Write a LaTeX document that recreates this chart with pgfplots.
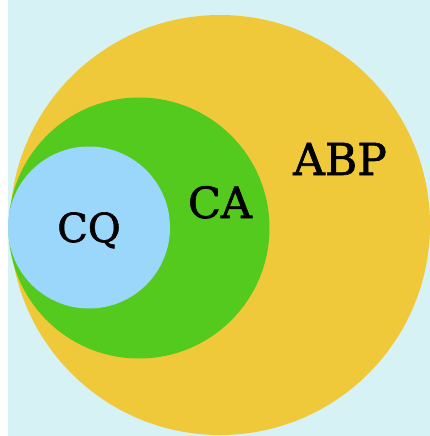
\documentclass[border=0pt]{standalone}
\usepackage{pgfplots}
\pgfplotsset{compat=1.18}
\usepackage{fontspec}
\setmainfont{DejaVu Serif}
\newfontfamily\lbl{DejaVu Serif}[FakeBold=1.5]
\definecolor{bg}{RGB}{214,242,245}
\definecolor{ylw}{RGB}{240,201,58}
\definecolor{grn}{RGB}{84,202,30}
\definecolor{blu}{RGB}{155,215,250}
\begin{document}
\begin{tikzpicture}
\begin{axis}[
  width=430pt, height=436pt, scale only axis,
  xmin=0, xmax=430, ymin=0, ymax=436, y dir=reverse,
  hide axis, clip=true]
\fill[bg] (axis cs:0,0) rectangle (axis cs:430,436);
\fill[white] (axis cs:0,0) rectangle (axis cs:8,436);
\fill[ylw] (axis cs:220,225) circle[radius=210];
\fill[grn] (axis cs:139,228) circle[radius=130.5];
\fill[blu] (axis cs:89,227.5) circle[radius=81];
\node[anchor=base, font=\lbl\fontsize{44}{50}\selectfont] at (axis cs:340,175) {ABP};
\node[anchor=base, font=\lbl\fontsize{43}{50}\selectfont] at (axis cs:220,218) {CA};
\node[anchor=base, font=\lbl\fontsize{40}{48}\selectfont] at (axis cs:89,242) {CQ};
\end{axis}
\end{tikzpicture}
\end{document}
